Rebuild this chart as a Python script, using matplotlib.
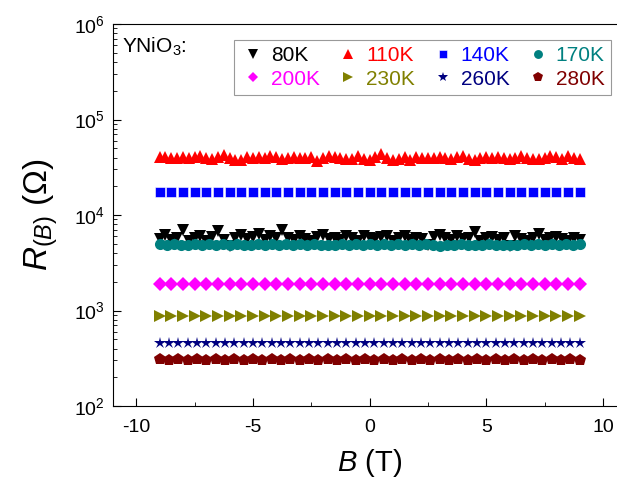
import numpy as np
import matplotlib.pyplot as plt

plt.rcParams['font.family'] = ['Liberation Sans', 'DejaVu Sans']
plt.rcParams['mathtext.fontset'] = 'custom'
plt.rcParams['mathtext.rm'] = 'Liberation Sans'
plt.rcParams['mathtext.it'] = 'Liberation Sans:italic'
plt.rcParams['axes.unicode_minus'] = False

# resistance (Ohm) vs field, YNiO3 at several temperatures
r_80 = [5600, 6200, 5500, 5800, 6900, 5400, 5700, 6100, 5300, 5900, 6800, 5500,
        4700, 5800, 6200, 5600, 5900, 6300, 5500, 6000, 5700, 7000, 5800, 5500,
        6100, 5600, 5400, 5900, 6200, 5600, 5800, 5500, 6000, 5700, 5300, 6100,
        5800, 5600, 5900, 6000, 5400, 5700, 6100, 5500, 5800, 5600, 4800, 5900,
        6200, 5700, 5500, 6000, 5600, 5800, 6700, 5400, 5700, 5900, 5500, 5800,
        4700, 6100, 5600, 5400, 5800, 6400, 5500, 5700, 5900, 5600, 5400, 5800,
        5500]
r_110 = [40500, 41000, 39500, 40000, 40500, 39800, 40200, 41500, 40000, 39000,
         40500, 43000, 40000, 37500, 38000, 40500, 39500, 41000, 40000, 42000,
         40500, 39000, 40000, 41000, 40000, 39500, 40500, 37000, 40000, 42000,
         41000, 40000, 38500, 39000, 41500, 39000, 38000, 41000, 44000, 39500,
         38000, 39000, 40500, 37500, 41000, 40000, 39500, 40000, 40500, 40000,
         39000, 41000, 42000, 39000, 38000, 40000, 40500, 39500, 41000, 40000,
         39000, 40000, 41500, 40000, 39000, 38500, 39500, 41500, 40500, 39000,
         42000, 40000, 38500]
r_140 = [17600, 17500, 17600, 17500, 17500, 17600, 17500, 17500, 17600, 17500,
         17500, 17600, 17500, 17500, 17600, 17500, 17500, 17600, 17500, 17500,
         17600, 17500, 17500, 17600, 17500, 17500, 17600, 17500, 17500, 17600,
         17500, 17500, 17600, 17500, 17500, 17600, 17500]
r_170 = [4950, 4900, 4950, 4900, 4850, 4950, 4900, 4950, 4900, 4950, 4900, 4950,
         4900, 4850, 4950, 4900, 4950, 4900, 4950, 4900, 4950, 4900, 4950, 4900,
         4850, 4900, 4950, 4900, 4950, 4900, 4950, 4900, 4950, 4900, 4950, 4900,
         4950, 4900, 4950, 4800, 4750, 4850, 4900, 4950, 4900, 4850, 4900, 4950,
         4900, 4850, 4800, 4900, 4950, 4900, 4950, 4900, 4950, 4900, 4950, 4900,
         4950]
r_200 = [1890, 1880, 1890, 1880, 1890, 1880, 1890, 1880, 1890, 1880, 1890, 1880,
         1890, 1880, 1890, 1880, 1890, 1880, 1890, 1880, 1890, 1880, 1890, 1880,
         1890, 1880, 1890, 1880, 1890, 1880, 1890, 1880, 1890, 1880, 1890, 1880,
         1890]
r_230 = [875, 870, 875, 870, 875, 870, 875, 870, 875, 870, 875, 870, 875, 870,
         875, 870, 875, 870, 875, 870, 875, 870, 875, 870, 875, 870, 875, 870,
         875, 870, 875, 870, 875, 870, 875, 870, 875]
r_260 = [455, 452, 455, 452, 455, 452, 455, 452, 455, 452, 455, 452, 455, 452,
         455, 452, 455, 452, 455, 452, 455, 452, 455, 452, 455, 452, 455, 452,
         455, 452, 455, 452, 455, 452, 455, 452, 455, 452, 455, 452, 455, 452,
         455, 452, 455, 452]
r_280 = [308, 306, 308, 306, 308, 306, 308, 306, 308, 306, 308, 306, 308, 306,
         308, 306, 308, 306, 308, 306, 308, 306, 308, 306, 308, 306, 308, 306,
         308, 306, 308, 306, 308, 306, 308, 306, 308, 306, 308, 306, 308, 306,
         308, 306, 308, 306]

series = [
    ('80K', r_80, 'v', 'black', 9),
    ('110K', r_110, '^', 'red', 9),
    ('140K', r_140, 's', 'blue', 7.6),
    ('170K', r_170, 'o', '#008080', 8),
    ('200K', r_200, 'D', 'magenta', 7),
    ('230K', r_230, '>', '#808000', 9),
    ('260K', r_260, '*', '#000080', 9),
    ('280K', r_280, 'p', '#800000', 9),
]

fig = plt.figure(figsize=(6.17, 4.91), dpi=100)
ax = fig.add_axes([0.183, 0.173, 0.832, 0.778])

handles = []
for label, r, m, c, ms in series:
    b = np.linspace(-9, 9, len(r))
    if m == 's':
        h, = ax.plot(b, r, linestyle='none', marker=m, color=c, markersize=ms,
                     markeredgecolor='white', markeredgewidth=0.4, label=label)
    else:
        h, = ax.plot(b, r, linestyle='none', marker=m, color=c, markersize=ms,
                     markeredgewidth=0, label=label)
    handles.append(h)

ax.set_yscale('log')
ax.set_ylim(1e2, 1e6)
ax.set_xlim(-11, 11)
ax.set_xticks([-10, -5, 0, 5, 10])
ax.set_xticks([-7.5, -2.5, 2.5, 7.5], minor=True)
ax.tick_params(which='both', direction='in', labelsize=14, top=False, right=False)
ax.tick_params(which='major', length=6)
ax.tick_params(which='minor', length=3)
ax.tick_params(axis='x', pad=9)
ax.tick_params(axis='y', pad=6)

ax.set_xlabel('$B$ (T)', fontsize=21, labelpad=8)
ax.set_ylabel('$R_{(B)}$ ($\\Omega$)', fontsize=24, labelpad=10)

ax.text(0.018, 0.97, 'YNiO$_3$:', transform=ax.transAxes, fontsize=15, va='top')

# legend is filled by column, so reorder to read across rows
order = [0, 4, 1, 5, 2, 6, 3, 7]
leg = ax.legend([handles[i] for i in order], [series[i][0] for i in order],
                ncol=4, loc='upper left', bbox_to_anchor=(0.215, 0.985),
                fontsize=15, labelcolor='linecolor', frameon=True, fancybox=False,
                edgecolor='gray', handletextpad=0.2, columnspacing=0.7,
                handlelength=1.3, borderpad=0.3, labelspacing=0.2, markerscale=0.8)
leg.get_frame().set_linewidth(0.8)

fig.savefig('out.png', dpi=100)
